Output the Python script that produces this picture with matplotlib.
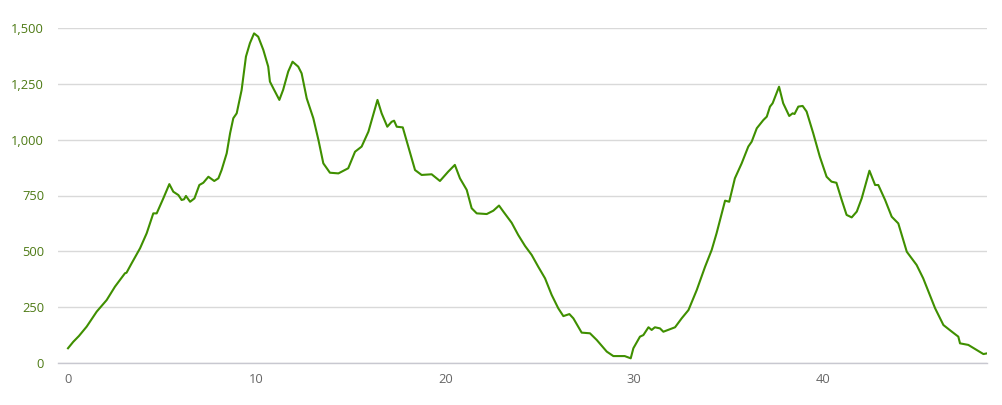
import matplotlib
matplotlib.use("Agg")
import matplotlib.pyplot as plt
from matplotlib.ticker import FuncFormatter

distance_km = [
    0.0, 0.28, 0.58, 0.99, 1.52, 2.05, 2.49, 3.02, 3.1, 3.37, 3.82, 4.17, 4.52, 4.7,
    5.05, 5.37, 5.58, 5.85, 6.02, 6.15, 6.25, 6.47, 6.7, 6.96, 7.17, 7.44, 7.75, 7.97,
    8.14, 8.41, 8.59, 8.76, 8.94, 9.2, 9.43, 9.64, 9.86, 10.08, 10.35, 10.61, 10.7,
    10.88, 11.2, 11.4, 11.67, 11.9, 12.2, 12.38, 12.65, 13.0, 13.27, 13.53, 13.88,
    14.33, 14.85, 15.21, 15.56, 15.92, 16.4, 16.62, 16.92, 17.15, 17.28, 17.42, 17.74,
    18.03, 18.39, 18.74, 19.27, 19.71, 20.15, 20.5, 20.77, 21.13, 21.39, 21.66, 22.19,
    22.54, 22.84, 23.07, 23.51, 23.86, 24.22, 24.57, 24.92, 25.28, 25.63, 25.98, 26.25,
    26.57, 26.78, 27.22, 27.66, 28.02, 28.55, 28.9, 29.25, 29.5, 29.82, 29.96, 30.31,
    30.49, 30.76, 30.93, 31.1, 31.37, 31.55, 32.17, 32.52, 32.88, 33.32, 33.76, 34.11,
    34.37, 34.82, 35.04, 35.34, 35.7, 36.05, 36.23, 36.5, 36.85, 37.03, 37.2, 37.34,
    37.68, 37.9, 38.22, 38.4, 38.5, 38.7, 38.93, 39.14, 39.49, 39.84, 40.2, 40.46,
    40.72, 41.0, 41.26, 41.53, 41.8, 42.06, 42.47, 42.77, 42.94, 43.3, 43.65, 44.0,
    44.45, 44.97, 45.32, 45.95, 46.39, 46.84, 47.18, 47.27, 47.71, 48.16, 48.51, 48.69,
]
elevation_m = [
    66, 95, 121, 163, 230, 282, 342, 402, 404, 446, 514, 581, 670, 670,
    737, 801, 767, 752, 730, 733, 748, 722, 737, 797, 807, 834, 815, 827,
    864, 939, 1029, 1096, 1118, 1222, 1372, 1432, 1476, 1461, 1402, 1327, 1260,
    1230, 1178, 1223, 1305, 1349, 1327, 1297, 1185, 1096, 999, 894, 852,
    849, 872, 946, 969, 1036, 1178, 1118, 1058, 1080, 1085, 1058, 1055,
    969, 864, 842, 845, 815, 857, 887, 827, 775, 693, 670, 667,
    682, 705, 678, 628, 573, 524, 484, 431, 379, 305, 245, 210,
    219, 200, 136, 133, 103, 51, 31, 31, 31, 21, 66, 118,
    125, 160, 148, 160, 155, 140, 160, 200, 237, 327, 431, 506,
    581, 727, 722, 827, 894, 969, 991, 1051, 1088, 1103, 1148, 1163,
    1237, 1163, 1106, 1118, 1115, 1148, 1151, 1126, 1029, 924, 834, 812,
    807, 730, 663, 652, 678, 737, 861, 797, 797, 730, 655, 625,
    498, 439, 379, 245, 170, 140, 118, 88, 81, 58, 40, 43,
]
y_ticks = [0, 250, 500, 750, 1000, 1250, 1500]
x_ticks = [0, 10, 20, 30, 40]

fig = plt.figure(figsize=(10.02, 4.05), dpi=100)
ax = fig.add_axes([58 / 1002, 42 / 405, 929 / 1002, 335 / 405])

ax.plot(distance_km, elevation_m, color="#3f8f00", linewidth=1.5, solid_joinstyle="round", zorder=3)

ax.set_xlim(-0.53, 48.7)
ax.set_ylim(0, 1500)
ax.set_yticks(y_ticks)
ax.set_xticks(x_ticks)
ax.yaxis.set_major_formatter(FuncFormatter(lambda v, p: f"{int(v):,}"))

ax.grid(axis="y", color="#d9d9d9", linewidth=1.0)
ax.grid(axis="x", visible=False)
for s in ["top", "right", "left"]:
    ax.spines[s].set_visible(False)
ax.spines["bottom"].set_color("#c8c8d0")
ax.spines["bottom"].set_linewidth(1.0)
ax.set_axisbelow(True)

ax.tick_params(axis="both", length=0)
ax.tick_params(axis="y", pad=10, labelsize=9.3, labelcolor="#4d7a14")
ax.tick_params(axis="x", pad=7, labelsize=9.3, labelcolor="#666666")
for lbl in ax.get_yticklabels() + ax.get_xticklabels():
    lbl.set_fontfamily("Open Sans")

fig.savefig("out.png", dpi=100)
